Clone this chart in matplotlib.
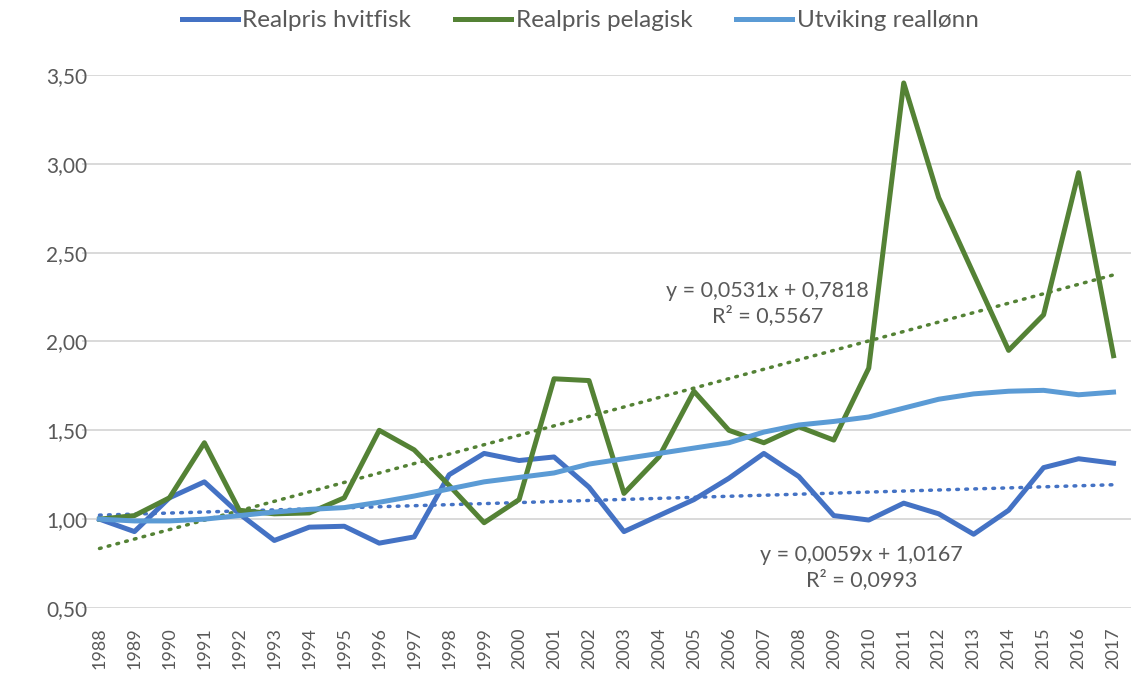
import numpy as np
import matplotlib.pyplot as plt

plt.rcParams['font.family'] = ['Lato', 'DejaVu Sans']

years = list(range(1988, 2018))
hvitfisk = [1.00, 0.93, 1.12, 1.21, 1.03, 0.88, 0.955, 0.96, 0.865, 0.90,
            1.25, 1.37, 1.33, 1.35, 1.18, 0.93, 1.02, 1.11, 1.23, 1.37,
            1.24, 1.02, 0.995, 1.09, 1.03, 0.915, 1.05, 1.29, 1.34, 1.315]
pelagisk = [1.00, 1.02, 1.12, 1.43, 1.05, 1.03, 1.035, 1.12, 1.50, 1.39,
            1.19, 0.98, 1.11, 1.79, 1.78, 1.145, 1.35, 1.72, 1.50, 1.43,
            1.52, 1.445, 1.85, 3.455, 2.81, 2.38, 1.95, 2.15, 2.95, 1.92]
reallonn = [1.00, 0.99, 0.99, 1.00, 1.02, 1.04, 1.055, 1.065, 1.095, 1.13,
            1.17, 1.21, 1.235, 1.26, 1.31, 1.34, 1.37, 1.40, 1.43, 1.49,
            1.53, 1.55, 1.575, 1.625, 1.675, 1.705, 1.72, 1.725, 1.70, 1.715]

# trendlinjer (Excel: x = 1..30)
trend_pel = (0.0531, 0.7818, 0.5567)
trend_hvit = (0.0059, 1.0167, 0.0993)

yticks = [0.5, 1.0, 1.5, 2.0, 2.5, 3.0, 3.5]

c_hvit = '#4472C4'
c_pel = '#548235'
c_lonn = '#5B9BD5'
grey = '#595959'

fig = plt.figure(figsize=(11.31, 6.73), dpi=100)
ax = fig.add_axes([0.0725, 0.0966, 0.9275, 0.792])

xi = np.arange(1, len(years) + 1)
ax.plot(years, trend_pel[0] * xi + trend_pel[1], color=c_pel, lw=2.5,
        linestyle=(0, (0.5, 2.1)), dash_capstyle='round')
ax.plot(years, trend_hvit[0] * xi + trend_hvit[1], color=c_hvit, lw=2.5,
        linestyle=(0, (0.5, 2.1)), dash_capstyle='round')

ax.plot(years, hvitfisk, color=c_hvit, lw=3.6, label='Realpris hvitfisk')
ax.plot(years, pelagisk, color=c_pel, lw=3.6, label='Realpris pelagisk')
ax.plot(years, reallonn, color=c_lonn, lw=3.6, label='Utviking reallønn')

def fmt(v, d):
    return f'{v:.{d}f}'.replace('.', ',')

ax.text(2007.1, 2.215, f'y = {fmt(trend_pel[0], 4)}x + {fmt(trend_pel[1], 4)}\n'
        f'R² = {fmt(trend_pel[2], 4)}', ha='center', va='center',
        fontsize=15.5, color=grey, linespacing=1.25)
ax.text(2009.8, 0.73, f'y = {fmt(trend_hvit[0], 4)}x + {fmt(trend_hvit[1], 4)}\n'
        f'R² = {fmt(trend_hvit[2], 4)}', ha='center', va='center',
        fontsize=15.5, color=grey, linespacing=1.25)

ax.set_xlim(1987.5, 2017.5)
ax.set_ylim(0.5, 3.5)
ax.set_yticks(yticks)
ax.set_yticklabels([fmt(v, 2) for v in yticks], fontsize=15, color=grey)
ax.set_xticks(years)
ax.set_xticklabels([str(y) for y in years], rotation=90, fontsize=13, color=grey)
ax.tick_params(axis='y', length=0, pad=26)
ax.tick_params(axis='x', length=0, pad=14)
for lbl in ax.get_yticklabels():
    lbl.set_horizontalalignment('left')
ax.grid(axis='y', color='#d9d9d9', lw=1.4)
ax.set_axisbelow(True)
for s in ax.spines.values():
    s.set_visible(False)

fig.legend(loc='upper center', bbox_to_anchor=(0.513, 1.017), ncol=3, frameon=False,
           fontsize=17.5, labelcolor=grey, handlelength=2.3, columnspacing=1.8,
           handletextpad=0.2)

fig.savefig('out.png', dpi=100)
